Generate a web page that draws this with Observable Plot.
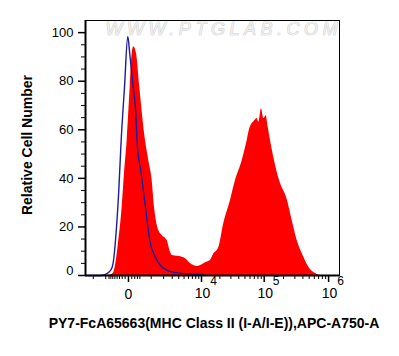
<!DOCTYPE html>
<html><head><meta charset="utf-8">
<script src="https://cdn.jsdelivr.net/npm/d3@7"></script>
<script src="https://cdn.jsdelivr.net/npm/@observablehq/plot@0.6"></script>
<style>
body{margin:0;background:#fff;}
#chart svg{display:block;}
</style></head><body><div id="chart"></div>
<script>
// Red filled histogram: PY7-FcA65663 (MHC Class II) stained sample
const sampleX = [-2900, -1000, -720, -580, -471, -330, -202, -122, -38, 50, 113, 166, 264, 397, 666, 850, 1061, 1222, 1555, 1860, 2378, 2774, 3040, 4623, 5302, 6494, 8457, 9617, 11648, 14075, 15751, 19200, 23103, 29524, 35448, 45239, 54225, 59570, 65000, 68091, 77760, 82400, 90806, 98560, 107500, 115500, 125400, 144811, 173300, 230480, 272750, 325860, 412900, 493600, 627400, 749300, 1475000];
const sampleY = [0, 0, 0.2, 0.8, 4.1, 14.4, 28.1, 42.0, 55.6, 77.5, 91.4, 94.2, 91.4, 77.5, 55.6, 47.3, 39.1, 28.1, 18.5, 16.5, 14.4, 9.6, 8.2, 7.5, 6.9, 4.9, 3.7, 4.1, 5.3, 6.2, 8.6, 11.5, 21.4, 30.9, 39.1, 47.3, 55.6, 60.5, 62.6, 63.1, 64.6, 63.1, 68.7, 64.6, 65.8, 61.0, 55.6, 47.3, 39.1, 30.9, 22.6, 14.4, 7.5, 3.4, 0.8, 0, 0];
// Blue line: isotype / unstained control
const controlX = [-2900, -1370, -1150, -832, -631, -551, -471, -330, -238, -122, -20, 38, 146, 253, 283, 458, 666, 910, 1294, 1703, 2378, 3474, 5681, 10794];
const controlY = [0, 0, 0.2, 1.2, 3.4, 7.0, 14.4, 35.0, 55.6, 77.5, 98.4, 91.2, 77.5, 63.8, 55.6, 42.0, 28.1, 14.4, 7.5, 4.1, 2.1, 1.2, 0.7, 0.4];

const xDomain = [-2900, 1475000];
const yDomain = [0, 105];
const yMajorTicks = [0, 20, 40, 60, 80, 100];
const yMinorTicks = [5, 10, 15, 25, 30, 35, 45, 50, 55, 65, 70, 75, 85, 90, 95];
const yLabelTicks = [20, 40, 60, 80, 100];
const xMajorTicks = [0, 10000, 100000, 1000000];
const xMinorTicks = [-2000, -1000, -800, -700, -600, -500, -400, -300, -200, -100, 100, 200, 300, 400,
  1000, 2000, 3000, 4000, 5000, 6000, 7000, 8000, 9000,
  20000, 30000, 40000, 50000, 60000, 70000, 80000, 90000,
  200000, 300000, 400000, 500000, 600000, 700000, 800000, 900000];
const xPowTicks = [10000, 100000, 1000000];
const xPowExp = ["4", "5", "6"];
const xLabel = "PY7-FcA65663(MHC Class II (I-A/I-E)),APC-A750-A";
const yLabel = "Relative Cell Number";
const watermark = "WWW.PTGLAB.COM";

const sample = sampleX.map((x, i) => ({x, y: sampleY[i]}));
const control = controlX.map((x, i) => ({x, y: controlY[i]}));

const chart = Plot.plot({
  width: 399,
  height: 356,
  marginLeft: 85,
  marginRight: 60,
  marginTop: 20,
  marginBottom: 81,
  style: {fontFamily: "'Liberation Sans', Arial, sans-serif", background: "#fff", color: "#000"},
  x: {type: "symlog", constant: 800, domain: xDomain},
  y: {domain: yDomain},
  marks: [
    Plot.text([watermark], {frameAnchor: "top-left", dx: 20, dy: 9, textAnchor: "start", lineAnchor: "middle",
      fontSize: 18, fontStyle: "italic", fill: "#eeeeee", stroke: "#c2c2c2", strokeWidth: 0.7}),
    Plot.areaY(sample, {x: "x", y: "y", fill: "#ff0000", curve: "monotone-x"}),
    Plot.lineY(control, {x: "x", y: "y", stroke: "#1c1c9c", strokeWidth: 1.4, curve: "monotone-x"}),
    Plot.frame({stroke: "#000", strokeWidth: 1}),
    Plot.ruleY([0], {stroke: "#000", strokeWidth: 2}),
    Plot.ruleX([xDomain[0]], {stroke: "#000", strokeWidth: 2}),
    Plot.axisY(yMajorTicks, {tickSize: 7, tickFormat: () => "", label: null, strokeWidth: 1.5}),
    Plot.axisY(yMinorTicks, {tickSize: 4, tickFormat: () => "", label: null}),
    Plot.axisY(yLabelTicks, {tickSize: 0, tickPadding: 12, fontSize: 13, label: null}),
    Plot.text([0], {y: d => d, frameAnchor: "left", dx: -12, dy: -5, textAnchor: "end", fontSize: 13, text: d => String(d)}),
    Plot.axisX(xMajorTicks, {tickSize: 7, tickFormat: () => "", label: null, strokeWidth: 1.5}),
    Plot.axisX(xMinorTicks, {tickSize: 4, tickFormat: () => "", label: null}),
    Plot.text([0], {x: d => d, frameAnchor: "bottom", dy: 23, fontSize: 14, text: d => String(d)}),
    Plot.text(xPowTicks, {x: d => d, frameAnchor: "bottom", dy: 22.5, dx: 1, fontSize: 14, text: () => "10"}),
    Plot.text(xPowTicks, {x: d => d, frameAnchor: "bottom", dy: 9, dx: 12, fontSize: 12, text: (d, i) => xPowExp[i]}),
    Plot.text([xLabel], {frameAnchor: "bottom", dy: 52, dx: 1.5, fontSize: 14, fontWeight: "bold", fill: "#000"}),
    Plot.text([yLabel], {frameAnchor: "left", dx: -58, dy: -3, rotate: -90, textAnchor: "middle", fontSize: 14, fontWeight: "bold", fill: "#000"})
  ]
});
document.getElementById("chart").appendChild(chart);
d3.select(chart).selectAll("text").filter(function() { return this.textContent === watermark; })
  .attr("textLength", 232).attr("lengthAdjust", "spacing");
</script>
</body></html>
